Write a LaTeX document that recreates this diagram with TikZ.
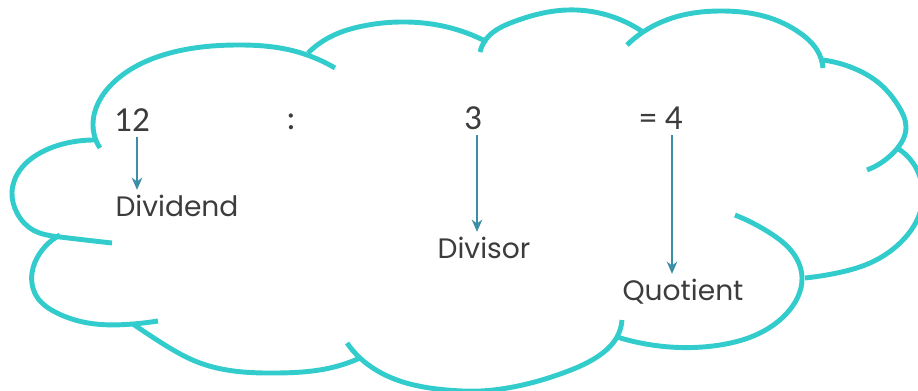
\documentclass[tikz,border=0pt]{standalone}
\usepackage{fontspec}
\setmainfont{Poppins}
\newfontfamily\numfont{Carlito}
\usetikzlibrary{arrows.meta,hobby}
\definecolor{cloudc}{RGB}{51,204,204}
\definecolor{arrc}{RGB}{59,142,165}
\definecolor{txtc}{RGB}{60,60,60}
\tikzset{
  cloudline/.style={draw=cloudc, line width=2.8pt, use Hobby shortcut},
  numtext/.style={anchor=base, inner sep=2.5pt, text=txtc, font=\numfont\fontsize{20pt}{22pt}\selectfont},
  labtext/.style={anchor=base, inner sep=2.5pt, text=txtc, font=\fontsize{16pt}{18pt}\selectfont},
  arr/.style={draw=arrc, line width=1.1pt, -{Stealth[length=7pt,width=6pt]}}
}
\begin{document}
\begin{tikzpicture}[x=0.02cm,y=-0.02cm]
\useasboundingbox (0,0) rectangle (918,391);
\begin{scope}
\clip (0,0) rectangle (918,391);
% lobes of the cloud
\draw[cloudline] (100,148) .. (93,125) .. (113,83) .. (160,56) .. (237,45) .. (290,50) .. (335,68);
\draw[cloudline] (308,53) .. (330,37) .. (363,26) .. (407,22) .. (447,27) .. (487,42);
\draw[cloudline] (480,52) .. (487,38) .. (513,22) .. (567,10) .. (607,15) .. (643,32);
\draw[cloudline] (627,45) .. (643,32) .. (683,15) .. (723,11) .. (767,17) .. (800,33) .. (817,50) .. (823,68);
\draw[cloudline] (823,60) .. (853,68) .. (880,84) .. (899,107) .. (906,127) .. (895,151) .. (867,170);
\draw[cloudline] (897,148) .. (913,163) .. (922,185) .. (922,205) .. (900,243) .. (870,263) .. (837,273) .. (805,278);
\draw[cloudline] (735,215) .. (770,233) .. (793,253) .. (802,278) .. (787,313) .. (760,333) .. (720,345) .. (670,347) .. (617,337);
\draw[cloudline] (622,320) .. (617,337) .. (597,357) .. (563,373) .. (513,387) .. (480,391) .. (447,390) .. (397,380) .. (360,358) .. (347,343);
\draw[cloudline] (360,358) .. (330,368) .. (277,373) .. (200,363) .. (157,340) .. (133,324);
\draw[cloudline] (60,235) .. (40,253) .. (32,273) .. (37,297) .. (57,313) .. (83,322) .. (133,324) .. (158,321);
\draw[cloudline] (95,140) .. (67,143) .. (40,153) .. (20,170) .. (12,192) .. (17,213) .. (33,230) .. (60,237) .. (112,243);
\end{scope}
% texts
\node[numtext] (n12) at (132,132) {12};
\node[numtext] (colon) at (291,130) {:};
\node[numtext] (n3) at (473,130) {3};
\node[numtext] (eq) at (661,130) {= 4};
\node[labtext] (dividend) at (177,216) {Dividend};
\node[labtext] (divisor) at (484,258) {Divisor};
\node[labtext] (quotient) at (683,300) {Quotient};
% arrows
\coordinate (x1) at (137,0);
\coordinate (x2) at (477,0);
\coordinate (x3) at (672,0);
\draw[arr] (n12.south -| x1) -- (dividend.north -| x1);
\draw[arr] (n3.south -| x2) -- (divisor.north -| x2);
\draw[arr] (eq.south -| x3) -- (quotient.north -| x3);
\end{tikzpicture}
\end{document}
